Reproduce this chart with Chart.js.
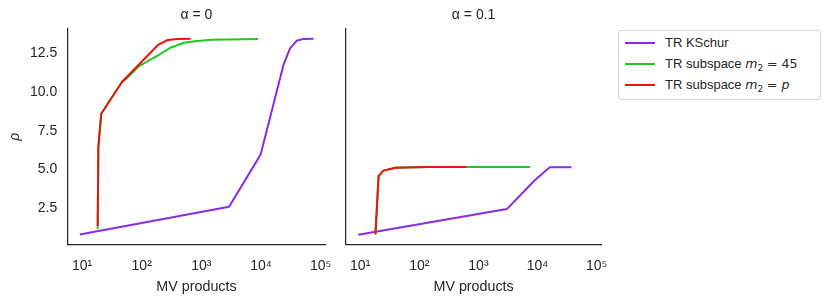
<!DOCTYPE html>
<html>
<head>
<meta charset="utf-8">
<script src="https://cdn.jsdelivr.net/npm/chart.js@4.4.1/dist/chart.umd.min.js"></script>
<style>
  html, body { margin: 0; padding: 0; background: #ffffff; }
  #wrap { position: relative; width: 830px; height: 305px; overflow: hidden; background: #ffffff; }
  canvas { position: absolute; top: 0; }
  #c0 { left: 0px; }
  #c1 { left: 336px; }
  #legend {
    position: absolute; left: 618px; top: 30px; width: 201px; height: 68px;
    border: 1px solid #d6d6d6; border-radius: 3px; background: #ffffff;
    font-family: "Liberation Sans", Arial, sans-serif; font-size: 13px; color: #262626;
  }
  .row { position: absolute; left: 0; height: 16px; width: 200px; }
  .sw { position: absolute; left: 6px; top: 7px; width: 30px; height: 2px; }
  .lbl { position: absolute; left: 46px; top: 0px; line-height: 16px; white-space: nowrap; }
  .m { font-family: "DejaVu Sans", sans-serif; font-style: italic; font-size: 12.5px; }
  .sub { font-family: "DejaVu Sans", sans-serif; font-size: 9px; position: relative; top: 3px; }
  .mt { font-family: "DejaVu Sans", sans-serif; font-size: 12.5px; }
</style>
</head>
<body>
<div id="wrap">
  <canvas id="c0" width="345" height="305"></canvas>
  <canvas id="c1" width="285" height="305"></canvas>
  <div id="legend"></div>
</div>
<script>
// ---------- data ----------
const tickValues = [10, 100, 1000, 10000, 100000];
const tickLabels = ['10\u00B9', '10\u00B2', '10\u00B3', '10\u2074', '10\u2075'];
const panelTitles = ['\u03B1 = 0', '\u03B1 = 0.1'];
const seriesNames = ['TR KSchur', 'TR subspace m2 = 45', 'TR subspace m2 = p'];
const seriesColors = ['#8b2be2', '#1fc81f', '#ee1111'];
const xAxisTitle = 'MV products';
const yAxisTitle = '\u03C1';

// alpha = 0
const kschurA0_x = [9.2, 2920, 9890, 23800, 30700, 39500, 50700, 75900];
const kschurA0_y = [0.81, 2.60, 5.98, 11.75, 12.82, 13.31, 13.42, 13.44];
const sub45A0_x = [18.3, 18.8, 21, 47, 53, 73, 88, 114, 188, 310, 514, 850, 1500, 8930];
const sub45A0_y = [1.16, 6.47, 8.6, 10.67, 10.8, 11.31, 11.64, 11.9, 12.37, 12.88, 13.18, 13.30, 13.38, 13.42];
const subPA0_x = [18.3, 18.8, 21, 47, 100, 188, 274, 400, 661];
const subPA0_y = [1.36, 6.47, 8.6, 10.67, 11.96, 13.04, 13.36, 13.42, 13.44];

// alpha = 0.1
const kschurA1_x = [9.3, 3030, 9060, 16100, 37500];
const kschurA1_y = [0.80, 2.45, 4.33, 5.15, 5.15];
const sub45A1_x = [18.1, 20.5, 24.7, 39.5, 139, 628, 7500];
const sub45A1_y = [0.82, 4.58, 4.93, 5.12, 5.16, 5.17, 5.17];
const subPA1_x = [18.1, 20.5, 24.7, 39.5, 139, 628];
const subPA1_y = [0.82, 4.58, 4.93, 5.12, 5.16, 5.17];

// ---------- helpers ----------
const TXT = '#262626';
const FONT = '"Liberation Sans", Arial, sans-serif';
function pts(xs, ys) { return xs.map((x, i) => ({ x: x, y: ys[i] })); }
function ds(i, xs, ys) {
  return {
    label: seriesNames[i],
    data: pts(xs, ys),
    borderColor: seriesColors[i],
    backgroundColor: seriesColors[i],
    borderWidth: 2,
    pointRadius: 0,
    showLine: true,
    fill: false,
    tension: 0,
    borderJoinStyle: 'round',
    order: 3 - i
  };
}

function makeChart(canvasId, title, datasets, showY, yWidth, padRight) {
  return new Chart(document.getElementById(canvasId), {
    type: 'scatter',
    data: { datasets: datasets },
    options: {
      responsive: false,
      animation: false,
      devicePixelRatio: 1,
      layout: { padding: { left: 0, right: padRight, top: 0, bottom: 0 } },
      plugins: {
        legend: { display: false },
        tooltip: { enabled: false },
        title: {
          display: true,
          text: title,
          fullSize: false,
          color: TXT,
          font: { family: FONT, size: 14, weight: 'normal' },
          padding: { top: 6.6, bottom: 5.6 }
        }
      },
      scales: {
        x: {
          type: 'logarithmic',
          min: Math.pow(10, 0.76),
          max: Math.pow(10, 5.077),
          grid: { display: false, drawTicks: false, tickLength: 0 },
          border: { display: true, color: TXT, width: 1.25 },
          ticks: {
            color: TXT,
            font: { family: FONT, size: 14 },
            padding: 13.3,
            autoSkip: false,
            maxRotation: 0,
            callback: function (v) {
              const k = tickValues.indexOf(v);
              return k >= 0 ? tickLabels[k] : '';
            }
          },
          afterBuildTicks: function (scale) {
            scale.ticks = tickValues.map(v => ({ value: v }));
          },
          afterFit: function (scale) { scale.height = 60.7; },
          title: {
            display: true,
            text: xAxisTitle,
            color: TXT,
            font: { family: FONT, size: 14.3 },
            padding: { top: 0, bottom: 9.4 }
          }
        },
        y: {
          type: 'linear',
          min: 0.177,
          max: 14.07,
          grid: { display: false, drawTicks: false, tickLength: 0 },
          border: { display: true, color: TXT, width: 1.25 },
          afterBuildTicks: function (scale) {
            scale.ticks = [2.5, 5, 7.5, 10, 12.5].map(v => ({ value: v }));
          },
          ticks: {
            display: showY,
            color: TXT,
            font: { family: FONT, size: 14 },
            padding: 10.4,
            callback: function (v) { return v.toFixed(1); }
          },
          afterFit: function (scale) { scale.width = yWidth; },
          title: {
            display: showY,
            text: yAxisTitle,
            color: TXT,
            font: { family: FONT, size: 14, style: 'italic' },
            padding: { top: 6.6, bottom: 0 }
          }
        }
      }
    }
  });
}

makeChart('c0', panelTitles[0], [
  ds(0, kschurA0_x, kschurA0_y),
  ds(1, sub45A0_x, sub45A0_y),
  ds(2, subPA0_x, subPA0_y)
], true, 67.7, 14);

makeChart('c1', panelTitles[1], [
  ds(0, kschurA1_x, kschurA1_y),
  ds(1, sub45A1_x, sub45A1_y),
  ds(2, subPA1_x, subPA1_y)
], false, 10, 11.7);

// ---------- legend (HTML, with math-style labels) ----------
const legendHtml = [
  'TR KSchur',
  'TR subspace <span class="m">m</span><span class="sub">2</span><span class="mt"> = 45</span>',
  'TR subspace <span class="m">m</span><span class="sub">2</span><span class="mt"> = </span><span class="m">p</span>'
];
const rowCenters = [11.7, 32.7, 54.3];
const leg = document.getElementById('legend');
seriesNames.forEach((name, i) => {
  const row = document.createElement('div');
  row.className = 'row';
  row.style.top = (rowCenters[i] - 8) + 'px';
  row.innerHTML = '<div class="sw" style="background:' + seriesColors[i] + '"></div><div class="lbl">' + legendHtml[i] + '</div>';
  leg.appendChild(row);
});
</script>
</body>
</html>
